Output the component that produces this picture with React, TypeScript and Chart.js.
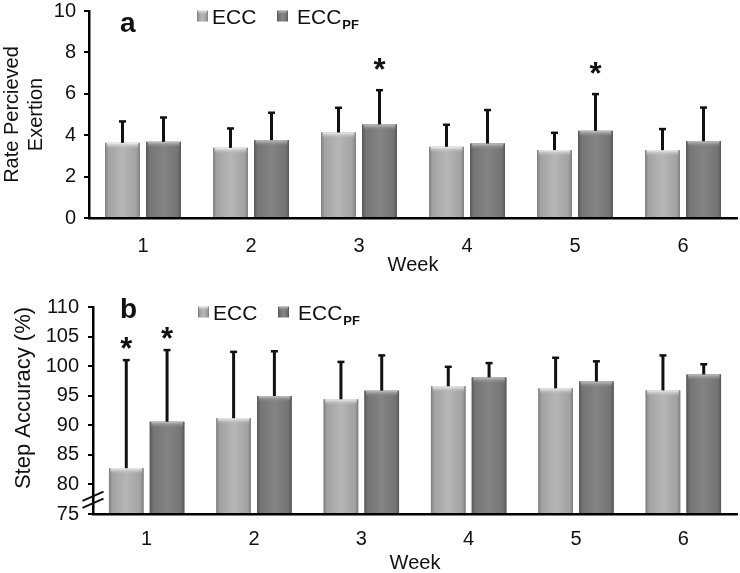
import React, { useEffect, useRef } from "react";
import { Chart, registerables } from "chart.js";

Chart.register(...registerables);

const FONT = "'Liberation Sans', Arial, sans-serif";

const weeks = ["1", "2", "3", "4", "5", "6"];
const legendNames = ["ECC", "ECC"];
const legendSubs = ["", "PF"];

// Panel a: Rate Percieved Exertion (mean, SD)
const rpeEcc = [3.63, 3.39, 4.13, 3.44, 3.28, 3.28];
const rpeEccSd = [1.06, 0.96, 1.22, 1.09, 0.86, 1.04];
const rpePf = [3.68, 3.76, 4.52, 3.6, 4.21, 3.71];
const rpePfSd = [1.2, 1.35, 1.68, 1.64, 1.8, 1.65];
const rpeEccStar = [false, false, false, false, false, false];
const rpePfStar = [false, false, true, false, true, false];

// Panel b: Step Accuracy (%) (mean, SD)
const accEcc = [82.75, 91.2, 94.4, 96.6, 96.25, 95.9];
const accEccSd = [18.35, 11.3, 6.4, 3.37, 5.25, 6.0];
const accPf = [90.6, 94.95, 95.85, 98.1, 97.4, 98.6];
const accPfSd = [12.2, 7.65, 6.05, 2.5, 3.5, 1.8];
const accEccStar = [true, false, false, false, false, false];
const accPfStar = [true, false, false, false, false, false];

const PAL = [
  { base: "#ababab", edge: "#7e7e7e", side: "#a2a2a2", center: "#b6b6b6", bevel: "#f2f2f2", bevelEnd: "rgba(182,182,182,0)" },
  { base: "#7b7b7b", edge: "#575757", side: "#747474", center: "#848484", bevel: "#c4c4c4", bevelEnd: "rgba(132,132,132,0)" },
];

type Spec = {
  letter: string;
  letterY: number;
  height: number;
  padTop: number;
  axisLeft: number;
  xHeight: number;
  xLabelPad: number;
  titleLH: number;
  titlePadBottom: number;
  yMin: number;
  yMax: number;
  yStep: number;
  yTitle: string | string[];
  yTitleSize: number;
  yTitleLH: number;
  yTitlePad: number;
  yTitleManual: { x: number; y: number } | null;
  yTickPad: number;
  ecc: number[];
  pf: number[];
  eccSd: number[];
  pfSd: number[];
  eccStar: boolean[];
  pfStar: boolean[];
  starGap: number;
  legendY: number;
  legendX: number[];
  brk: boolean;
};

function drawIcon(ctx: CanvasRenderingContext2D, x: number, y: number, s: number, p: any) {
  const g = ctx.createLinearGradient(x, 0, x + s, 0);
  g.addColorStop(0, p.edge);
  g.addColorStop(0.2, p.side);
  g.addColorStop(0.5, p.center);
  g.addColorStop(0.8, p.side);
  g.addColorStop(1, p.edge);
  ctx.fillStyle = g;
  ctx.fillRect(x, y, s, s);
  const t = ctx.createLinearGradient(0, y, 0, y + 4);
  t.addColorStop(0, p.bevel);
  t.addColorStop(1, p.bevelEnd);
  ctx.fillStyle = t;
  ctx.fillRect(x + 1, y, s - 2, 4);
}

function decor(s: Spec) {
  return {
    id: "decor" + s.letter,
    afterDatasetsDraw(chart: any) {
      const ctx: CanvasRenderingContext2D = chart.ctx;
      const yScale = chart.scales.y;
      const area = chart.chartArea;
      const sds = [s.eccSd, s.pfSd];
      const stars = [s.eccStar, s.pfStar];
      ctx.save();
      chart.data.datasets.forEach((ds: any, di: number) => {
        const meta = chart.getDatasetMeta(di);
        const p = PAL[di];
        meta.data.forEach((bar: any, i: number) => {
          const { x, y, base, width } = bar.getProps(["x", "y", "base", "width"], true);
          const b = Math.min(base, area.bottom);
          const l = x - width / 2;
          const g = ctx.createLinearGradient(l, 0, l + width, 0);
          g.addColorStop(0, p.edge);
          g.addColorStop(0.1, p.side);
          g.addColorStop(0.5, p.center);
          g.addColorStop(0.9, p.side);
          g.addColorStop(1, p.edge);
          ctx.fillStyle = g;
          ctx.fillRect(l, y, width, b - y);
          const t = ctx.createLinearGradient(0, y, 0, y + 6);
          t.addColorStop(0, p.bevel);
          t.addColorStop(1, p.bevelEnd);
          ctx.fillStyle = t;
          ctx.fillRect(l + 1.5, y, width - 3, 6);
          // error bar (upward only)
          const v = ds.data[i] as number;
          const top = yScale.getPixelForValue(v + sds[di][i]);
          ctx.strokeStyle = "#111";
          ctx.lineWidth = 3;
          ctx.beginPath();
          ctx.moveTo(x, y);
          ctx.lineTo(x, top);
          ctx.stroke();
          ctx.lineWidth = 2.5;
          ctx.beginPath();
          ctx.moveTo(x - 3.5, top + 0.5);
          ctx.lineTo(x + 3.5, top + 0.5);
          ctx.stroke();
          if (stars[di][i]) {
            ctx.fillStyle = "#111";
            ctx.font = "bold 31px " + FONT;
            ctx.textAlign = "center";
            ctx.textBaseline = "alphabetic";
            ctx.fillText("*", x, top - s.starGap + 13.5);
          }
        });
      });
      ctx.restore();
    },
    afterDraw(chart: any) {
      const ctx: CanvasRenderingContext2D = chart.ctx;
      ctx.save();
      // panel letter
      ctx.fillStyle = "#111";
      ctx.font = "bold 28px " + FONT;
      ctx.textAlign = "left";
      ctx.textBaseline = "alphabetic";
      ctx.fillText(s.letter, 120, s.letterY);
      // legend
      for (let k = 0; k < 2; k++) {
        const lx = s.legendX[k];
        drawIcon(ctx, lx, s.legendY - 5.5, 11, PAL[k]);
        ctx.fillStyle = "#111";
        ctx.font = "21px " + FONT;
        ctx.textAlign = "left";
        ctx.textBaseline = "alphabetic";
        const tx = lx + (k === 0 ? 15 : 20);
        ctx.fillText(legendNames[k], tx, s.legendY + 7.5);
        if (legendSubs[k]) {
          const w = ctx.measureText(legendNames[k]).width;
          ctx.font = "bold 13px " + FONT;
          ctx.fillText(legendSubs[k], tx + w + 1, s.legendY + 12.5);
        }
      }
      // manual y title
      if (s.yTitleManual) {
        ctx.save();
        ctx.translate(s.yTitleManual.x, s.yTitleManual.y);
        ctx.rotate(-Math.PI / 2);
        ctx.fillStyle = "#111";
        ctx.font = s.yTitleSize + "px " + FONT;
        ctx.textAlign = "center";
        ctx.textBaseline = "middle";
        ctx.fillText(s.yTitle as string, 0, 0);
        ctx.restore();
      }
      // axis break
      if (s.brk) {
        const yScale = chart.scales.y;
        const ax = chart.chartArea.left;
        const cy = yScale.getPixelForValue(s.yMin + 2.4);
        ctx.strokeStyle = "#111";
        ctx.lineWidth = 2;
        for (const off of [-3.5, 3.5]) {
          ctx.beginPath();
          ctx.moveTo(ax - 10.5, cy + off + 4.6);
          ctx.lineTo(ax + 10.5, cy + off - 4.6);
          ctx.stroke();
        }
      }
      ctx.restore();
    },
  };
}

function buildConfig(s: Spec): any {
  return {
    type: "bar",
    data: {
      labels: weeks,
      datasets: [
        { label: "ECC", data: s.ecc, base: s.yMin, backgroundColor: PAL[0].base, borderWidth: 0, categoryPercentage: 0.76, barPercentage: 0.85 },
        { label: "ECC PF", data: s.pf, base: s.yMin, backgroundColor: PAL[1].base, borderWidth: 0, categoryPercentage: 0.76, barPercentage: 0.85 },
      ],
    },
    options: {
      responsive: false,
      animation: false,
      devicePixelRatio: 1,
      layout: { padding: { top: s.padTop, right: 3, left: 0, bottom: 0 } },
      plugins: { legend: { display: false }, tooltip: { enabled: false }, title: { display: false } },
      scales: {
        x: {
          type: "category",
          offset: true,
          grid: { display: false, drawTicks: false },
          border: { display: true, color: "#000", width: 2.5 },
          ticks: { font: { family: FONT, size: 20 }, color: "#111", padding: s.xLabelPad },
          title: {
            display: true,
            text: "Week",
            color: "#111",
            font: { family: FONT, size: 20, lineHeight: s.titleLH },
            padding: { top: 0, bottom: s.titlePadBottom },
          },
          afterFit: (sc: any) => {
            sc.height = s.xHeight;
          },
        },
        y: {
          min: s.yMin,
          max: s.yMax,
          ticks: { stepSize: s.yStep, font: { family: FONT, size: 20, lineHeight: 0.2 }, color: "#111", padding: s.yTickPad },
          grid: { drawOnChartArea: false, drawTicks: true, tickLength: 5, color: "#000", lineWidth: 2 },
          border: { display: true, color: "#000", width: 2.5 },
          title: {
            display: !s.yTitleManual,
            text: s.yTitle,
            color: "#111",
            font: { family: FONT, size: s.yTitleSize, lineHeight: s.yTitleLH },
            padding: { top: s.yTitlePad, bottom: 0 },
          },
          afterFit: (sc: any) => {
            sc.width = s.axisLeft;
          },
        },
      },
    },
    plugins: [decor(s)],
  };
}

const specA: Spec = {
  letter: "a",
  letterY: 32,
  height: 280,
  padTop: 11,
  axisLeft: 89,
  xHeight: 62,
  xLabelPad: 16,
  titleLH: 1.2,
  titlePadBottom: 3,
  yMin: 0,
  yMax: 10,
  yStep: 2,
  yTitle: ["Rate Percieved", "Exertion"],
  yTitleSize: 20,
  yTitleLH: 1.2,
  yTitlePad: 0,
  yTitleManual: null,
  yTickPad: 8,
  ecc: rpeEcc,
  pf: rpePf,
  eccSd: rpeEccSd,
  pfSd: rpePfSd,
  eccStar: rpeEccStar,
  pfStar: rpePfStar,
  starGap: 23,
  legendY: 16,
  legendX: [197, 277],
  brk: false,
};

const specB: Spec = {
  letter: "b",
  letterY: 38,
  height: 293,
  padTop: 27,
  axisLeft: 93,
  xHeight: 59,
  xLabelPad: 13,
  titleLH: 1.0,
  titlePadBottom: 0,
  yMin: 75,
  yMax: 110,
  yStep: 5,
  yTitle: "Step Accuracy (%)",
  yTitleSize: 22,
  yTitleLH: 1.2,
  yTitlePad: 11,
  yTitleManual: { x: 24, y: 118 },
  yTickPad: 9,
  ecc: accEcc,
  pf: accPf,
  eccSd: accEccSd,
  pfSd: accPfSd,
  eccStar: accEccStar,
  pfStar: accPfStar,
  starGap: 14,
  legendY: 32,
  legendX: [198, 278],
  brk: true,
};

function Panel({ spec }: { spec: Spec }) {
  const ref = useRef<HTMLCanvasElement>(null);
  useEffect(() => {
    const chart = new Chart(ref.current as HTMLCanvasElement, buildConfig(spec));
    return () => chart.destroy();
  }, [spec]);
  return (
    <canvas
      ref={ref}
      width={740}
      height={spec.height}
      style={{ display: "block", width: 740, height: spec.height }}
    />
  );
}

export default function App() {
  return (
    <div style={{ position: "absolute", left: 0, top: 0, width: 740, height: 573, background: "#fff" }}>
      <Panel spec={specA} />
      <Panel spec={specB} />
    </div>
  );
}
